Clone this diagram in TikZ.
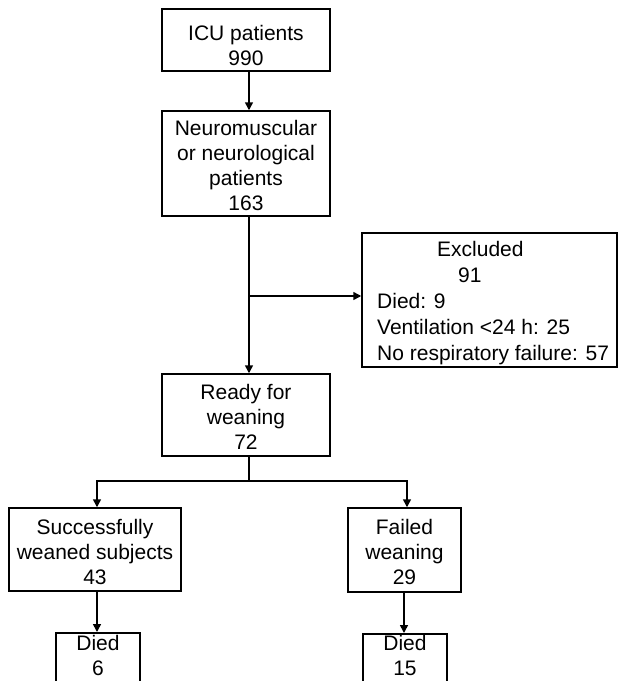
\documentclass[tikz,border=0pt]{standalone}
\usepackage{fontspec}
\setmainfont{Liberation Sans}
\usetikzlibrary{arrows.meta}
\newcommand\padtop[1]{\rule{0pt}{#1}}
\tikzset{
  box/.style={draw, line width=1.5pt, inner sep=0pt, align=center, font=\fontsize{21}{25}\selectfont},
  plain/.style={inner sep=0pt, align=center, font=\fontsize{21}{25}\selectfont},
  arr/.style={line width=1.5pt, -{Triangle[width=8pt,length=8pt]}},
  ln/.style={line width=1.5pt},
}
\begin{document}
\begin{tikzpicture}[x=1pt,y=-1pt]
\useasboundingbox (0,0) rectangle (619,681);
\clip (0,0) rectangle (619,681);
% boxes
\node[box, minimum width=168pt, minimum height=62pt] (icu) at (246,40) {\padtop{25.5pt}ICU patients\\990};
\node[box, minimum width=168pt, minimum height=105pt] (neuro) at (246,163.5) {\padtop{19.5pt}Neuromuscular\\or neurological\\patients\\163};
\node[box, minimum width=255pt, minimum height=134pt] (excl) at (489.5,300) {};
\node[plain, anchor=west, align=left, font=\fontsize{21}{26}\selectfont] (excltext) at (377,303)
  {\hspace*{60pt}Excluded\\\hspace*{81pt}91\\Died: 9\\Ventilation <24 h: 25\\No respiratory failure: 57};
\node[box, minimum width=168pt, minimum height=82pt] (ready) at (246,415) {\padtop{19.5pt}Ready for\\weaning\\72};
\node[box, minimum width=172pt, minimum height=83pt] (succ) at (95,549.5) {\padtop{19.5pt}Successfully\\weaned subjects\\43};
\node[box, minimum width=113pt, minimum height=84pt] (fail) at (404.5,550) {\padtop{19.5pt}Failed\\weaning\\29};
\node[box, minimum width=84pt, minimum height=80pt, anchor=north] (died1) at (98,632) {};
\node[plain, anchor=north] (died1t) at (98,635) {Died\\[0.5pt]6};
\node[box, minimum width=84pt, minimum height=80pt, anchor=north] (died2) at (405,633) {};
\node[plain, anchor=north] (died2t) at (405,635) {Died\\[0.5pt]15};
% connector guides
\coordinate (mx) at (249,0);
\coordinate (lx) at (97,0);
\coordinate (rx) at (407,0);
\coordinate (fx) at (404,0);
\coordinate (br1) at (249,296);
\coordinate (br2) at (249,481);
% connectors
\draw[arr] (icu.south -| mx) -- (neuro.north -| mx);
\draw[arr] (neuro.south -| mx) -- (ready.north -| mx);
\draw[arr] (br1) -- (br1 -| excl.west);
\draw[ln] (ready.south -| mx) -- (br2);
\draw[arr] (br2) -| (lx |- succ.north);
\draw[arr] (br2) -| (rx |- fail.north);
\draw[arr] (succ.south -| lx) -- (died1.north -| lx);
\draw[arr] (fail.south -| fx) -- (died2.north -| fx);
\end{tikzpicture}
\end{document}
